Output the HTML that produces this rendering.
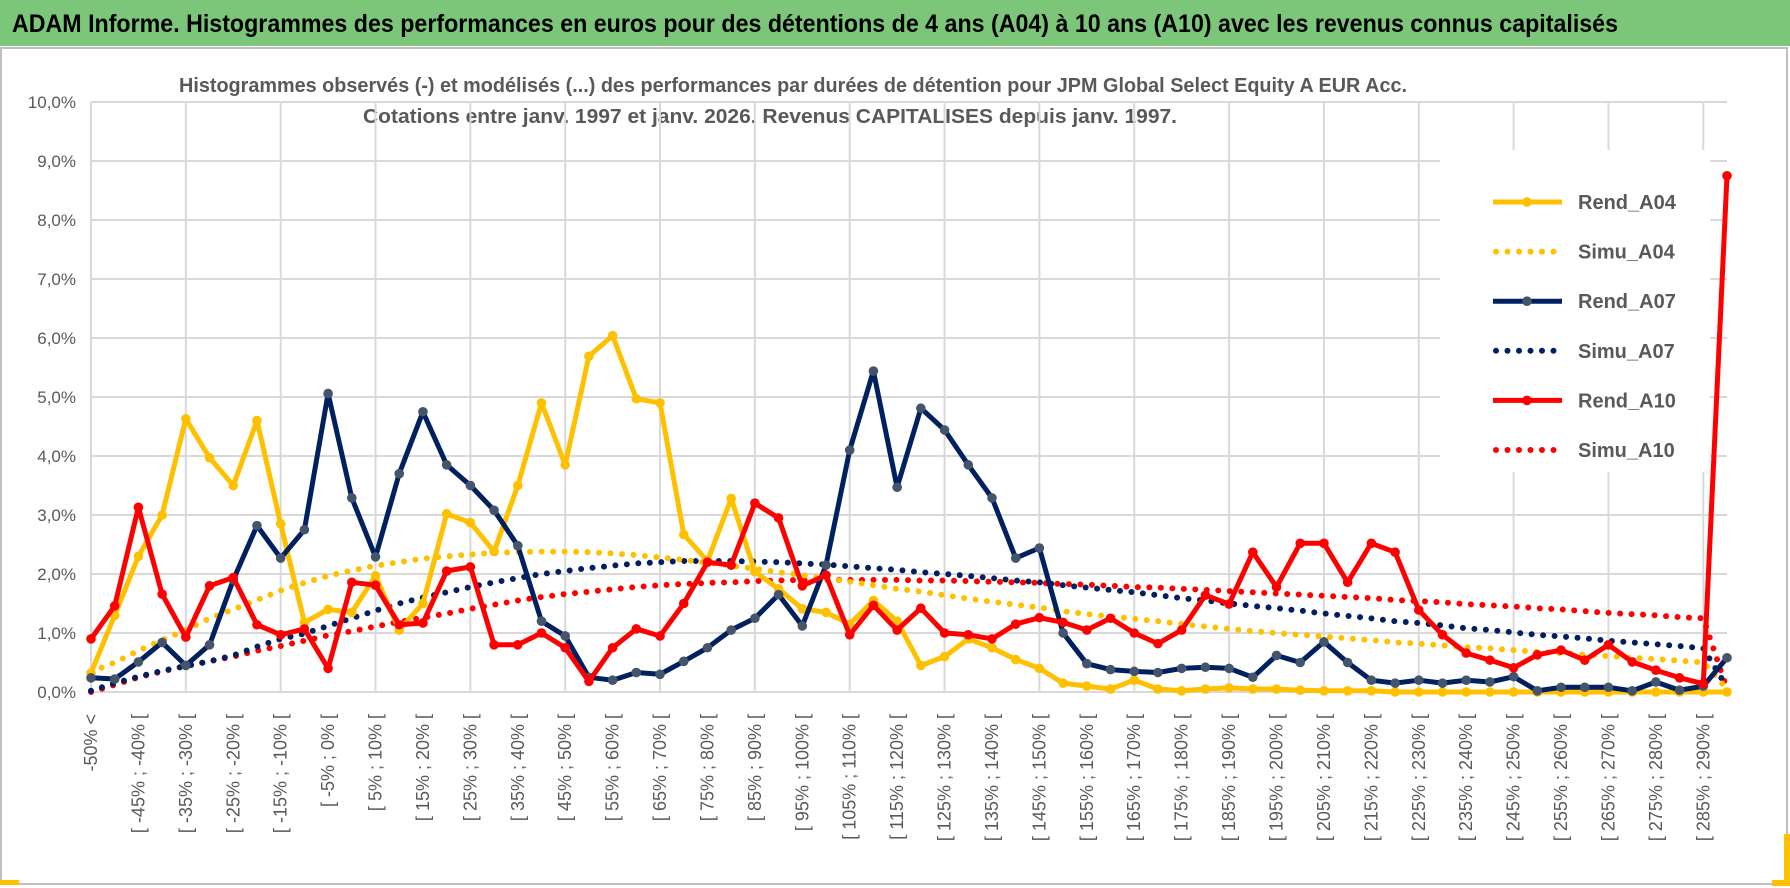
<!DOCTYPE html>
<html><head><meta charset="utf-8">
<style>
html,body{margin:0;padding:0;background:#fff;}
svg{display:block;font-family:"Liberation Sans Narrow","Liberation Sans",sans-serif;}
</style></head>
<body>
<svg id="chart" width="1790" height="888" viewBox="0 0 1790 888" xmlns="http://www.w3.org/2000/svg">
  <rect x="0" y="0" width="1790" height="888" fill="#fff"/>
  <rect x="0" y="0" width="1790" height="46" fill="#7CC67A"/>
  <text x="12" y="32" font-size="25" font-weight="bold" fill="#000" textLength="1606" lengthAdjust="spacingAndGlyphs">ADAM Informe. Histogrammes des performances en euros pour des détentions de 4 ans (A04) à 10 ans (A10) avec les revenus connus capitalisés</text>
  <rect x="1" y="48" width="1786" height="836" fill="none" stroke="#bfbfbf" stroke-width="2"/>
  <rect x="0" y="880" width="19" height="5" fill="#FFC000"/>
  <rect x="1772" y="834" width="18" height="52" fill="#FFC000"/>
  <rect x="1772" y="834" width="12" height="46" fill="#fff"/>
  <text x="793" y="92" font-size="20" font-weight="bold" fill="#595959" text-anchor="middle" textLength="1228" lengthAdjust="spacingAndGlyphs">Histogrammes observés (-) et modélisés (...) des performances par durées de détention pour JPM Global Select Equity A EUR Acc.</text>
  <text x="770" y="123" font-size="20" font-weight="bold" fill="#595959" text-anchor="middle" textLength="814" lengthAdjust="spacingAndGlyphs">Cotations entre janv. 1997 et janv. 2026. Revenus CAPITALISES depuis janv. 1997.</text>
  <g id="grid"></g>
  <g id="yaxis"></g>
  <g id="xaxis"></g>
  <g id="legend"></g>
  <g id="series"></g>
</svg>
<script>
const categories = (function(){ const c=["-50% <"]; for(let a=-50;a<290;a+=5){ c.push("[ "+a+"% ; "+(a+5)+"% ["); } c.push(">= 290%"); return c; })();
const yTicks = [0,1,2,3,4,5,6,7,8,9,10];
const yTickLabels = ["0,0%","1,0%","2,0%","3,0%","4,0%","5,0%","6,0%","7,0%","8,0%","9,0%","10,0%"];
const rendA04 = [0.32,1.3,2.3,3.0,4.63,3.97,3.5,4.6,2.85,1.18,1.4,1.35,1.97,1.05,1.5,3.02,2.87,2.38,3.5,4.9,3.85,5.69,6.04,4.97,4.9,2.67,2.22,3.28,2.04,1.75,1.41,1.35,1.15,1.55,1.2,0.45,0.6,0.9,0.75,0.55,0.4,0.15,0.1,0.05,0.2,0.05,0.02,0.05,0.07,0.05,0.05,0.03,0.02,0.02,0.02,0,0,0,0,0,0,0,0,0,0,0,0,0,0,0];
const simuA04 = [0.34,0.5,0.7,0.88,1.05,1.25,1.4,1.56,1.72,1.85,1.97,2.06,2.14,2.2,2.26,2.3,2.33,2.36,2.37,2.38,2.38,2.37,2.35,2.32,2.28,2.24,2.19,2.14,2.09,2.03,1.98,1.92,1.87,1.81,1.75,1.7,1.64,1.58,1.53,1.48,1.43,1.37,1.32,1.28,1.24,1.2,1.15,1.11,1.07,1.03,1.0,0.97,0.94,0.91,0.88,0.84,0.82,0.79,0.76,0.74,0.71,0.68,0.66,0.63,0.61,0.58,0.56,0.53,0.5,0.05];
const rendA07 = [0.24,0.22,0.51,0.84,0.45,0.8,1.9,2.82,2.27,2.75,5.06,3.29,2.29,3.7,4.75,3.85,3.5,3.08,2.48,1.2,0.95,0.25,0.2,0.33,0.3,0.52,0.75,1.05,1.25,1.65,1.12,2.15,4.1,5.44,3.47,4.81,4.44,3.85,3.29,2.27,2.44,1.0,0.48,0.38,0.35,0.33,0.4,0.42,0.4,0.25,0.62,0.5,0.85,0.5,0.2,0.15,0.2,0.15,0.2,0.17,0.26,0.02,0.08,0.08,0.08,0.02,0.17,0.03,0.1,0.58];
const simuA07 = [0.02,0.15,0.26,0.36,0.44,0.52,0.62,0.77,0.9,0.99,1.12,1.25,1.38,1.5,1.6,1.69,1.78,1.86,1.93,2.0,2.05,2.1,2.14,2.18,2.2,2.22,2.22,2.22,2.21,2.2,2.18,2.16,2.13,2.1,2.07,2.03,2.0,1.97,1.93,1.89,1.86,1.81,1.77,1.73,1.69,1.64,1.59,1.55,1.5,1.46,1.42,1.38,1.33,1.29,1.25,1.2,1.17,1.13,1.08,1.05,1.01,0.97,0.94,0.91,0.87,0.84,0.81,0.78,0.74,0.08];
const rendA10 = [0.9,1.46,3.13,1.66,0.93,1.8,1.94,1.14,0.97,1.07,0.4,1.86,1.81,1.14,1.17,2.05,2.12,0.8,0.8,1.0,0.75,0.18,0.75,1.07,0.95,1.5,2.2,2.15,3.2,2.95,1.8,1.98,0.97,1.47,1.05,1.42,1.0,0.97,0.9,1.15,1.26,1.18,1.05,1.25,1.0,0.82,1.05,1.64,1.49,2.37,1.78,2.52,2.52,1.86,2.52,2.37,1.39,0.97,0.66,0.54,0.41,0.63,0.71,0.54,0.8,0.51,0.37,0.24,0.14,8.75];
const simuA10 = [0.0,0.12,0.25,0.35,0.44,0.52,0.6,0.7,0.78,0.87,0.96,1.03,1.11,1.19,1.26,1.33,1.41,1.48,1.55,1.61,1.66,1.7,1.74,1.78,1.81,1.83,1.85,1.86,1.88,1.89,1.9,1.9,1.9,1.9,1.9,1.89,1.89,1.88,1.87,1.86,1.85,1.83,1.82,1.8,1.78,1.77,1.75,1.73,1.71,1.69,1.67,1.65,1.63,1.61,1.59,1.56,1.54,1.52,1.49,1.47,1.45,1.42,1.4,1.37,1.34,1.32,1.3,1.27,1.25,0.05];
const seriesNames = ["Rend_A04","Simu_A04","Rend_A07","Simu_A07","Rend_A10","Simu_A10"];

const NS="http://www.w3.org/2000/svg";
const X0=91, X1=1727, Y0=692, Y1=102;
const xStep=(X1-X0)/(categories.length-1);
function xScale(i){ return X0+i*xStep; }
function yScale(v){ return Y0-(v/10)*(Y0-Y1); }
function mk(tag,attrs,parent){ const e=document.createElementNS(NS,tag); for(const k in attrs) e.setAttribute(k,attrs[k]); parent.appendChild(e); return e; }

const grid=document.getElementById('grid');
yTicks.forEach(function(t){
  const l=mk('line',{x1:X0,x2:X1,y1:yScale(t),y2:yScale(t),stroke:'#d9d9d9','stroke-width':2},grid);
  
  
});
for(let i=0;i<categories.length;i+=4){
  const l=mk('line',{x1:xScale(i),x2:xScale(i),y1:Y1,y2:Y0,stroke:'#d9d9d9','stroke-width':2},grid);
  
  
}
const yax=document.getElementById('yaxis');
yTicks.forEach(function(t,k){
  const tx=mk('text',{x:76,y:yScale(t)+6,'font-size':17,fill:'#595959','text-anchor':'end'},yax);
  tx.textContent=yTickLabels[k];
  
  
});
const xax=document.getElementById('xaxis');
for(let i=0;i<categories.length;i+=2){
  const x=xScale(i)+6;
  const tx=mk('text',{x:0,y:0,'font-size':18,fill:'#595959','text-anchor':'end',transform:'translate('+x+',714) rotate(-90)'},xax);
  tx.textContent=categories[i];
  
  
}

const leg=document.getElementById('legend');
const lbg=mk('rect',{x:1440,y:150,width:270,height:322,fill:'#fff'},leg);


const legStyles=[['#FFC000','#FFC000',false],['#FFC000',null,true],['#002060','#44546A',false],['#002060',null,true],['#FF0000','#FF0000',false],['#FF0000',null,true]];
seriesNames.forEach(function(n,k){
  const y=202+k*49.6;
  const g=mk('g',{},leg);
  
  
  const s=legStyles[k];
  if(s[2]){
    mk('line',{x1:1496,x2:1562,y1:y,y2:y,stroke:s[0],'stroke-width':6,'stroke-linecap':'round','stroke-dasharray':'0 11.5'},g);
  } else {
    mk('line',{x1:1493,x2:1562,y1:y,y2:y,stroke:s[0],'stroke-width':5},g);
    mk('circle',{cx:1527,cy:y,r:4.8,fill:s[1]},g);
  }
  const t=mk('text',{x:1578,y:y+7,'font-size':20,'font-weight':'bold',fill:'#595959'},g);
  t.textContent=n;
});

const ser=document.getElementById('series');
function ptsOf(arr){ return arr.map(function(v,i){ return xScale(i).toFixed(1)+','+yScale(v).toFixed(1); }).join(' '); }
function dotted(arr,color,name){
  const p=mk('polyline',{points:ptsOf(arr),fill:'none',stroke:color,'stroke-width':6,'stroke-linecap':'round','stroke-dasharray':'0 11.5'},ser);
  
  
}
function solid(arr,color,mcolor,name){
  const g=mk('g',{},ser);
  
  
  mk('polyline',{points:ptsOf(arr),fill:'none',stroke:color,'stroke-width':5,'stroke-linejoin':'round'},g);
  arr.forEach(function(v,i){
    const c=mk('circle',{cx:xScale(i),cy:yScale(v),r:4.8,fill:mcolor},g);
    
    
  });
}
dotted(simuA10,'#FF0000','simu-a10-line');
dotted(simuA07,'#002060','simu-a07-line');
dotted(simuA04,'#FFC000','simu-a04-line');
solid(rendA04,'#FFC000','#FFC000','rend-a04-line');
solid(rendA07,'#002060','#44546A','rend-a07-line');
solid(rendA10,'#FF0000','#FF0000','rend-a10-line');
</script>
</body></html>
